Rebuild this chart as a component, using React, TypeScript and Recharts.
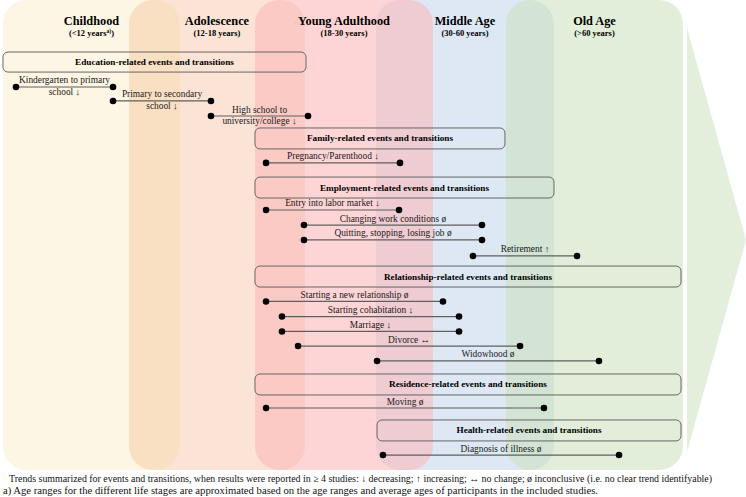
import React from 'react';
import { ComposedChart, XAxis, YAxis, ReferenceArea, Line, Scatter } from 'recharts';

// x: position along the life course (0-100), y: row position (0-32, top to bottom)
const stageNames = ['Childhood', 'Adolescence', 'Young Adulthood', 'Middle Age', 'Old Age'];
const stageRanges = ['(<12 years', '(12-18 years', '(18-30 years', '(30-60 years', '(>60 years'];
const stageNotes = ['a)', '', '', '', ''];
const stageStart = [0.4, 17.29, 34.18, 50.4, 67.83];
const stageEnd = [24.13, 40.88, 58.04, 74.26, 91.55];
const stageTop = 0;
const stageBottom = 30.26;
const headerRow = 1.58;

// arrow at the right end of the timeline
const arrowStart = 92.09;
const arrowEnd = 100;
const arrowTop = 1.8;
const arrowBottom = 29.1;

const sectionTitles = [
  'Education-related events and transitions',
  'Family-related events and transitions',
  'Employment-related events and transitions',
  'Relationship-related events and transitions',
  'Residence-related events and transitions',
  'Health-related events and transitions',
];
const sectionStart = [0.4, 34.18, 34.18, 34.18, 34.18, 50.54];
const sectionEnd = [41.02, 67.69, 74.26, 91.29, 91.29, 91.29];
const sectionTop = [3.35, 8.24, 11.4, 17.13, 24.08, 27.04];
const sectionBottom = [4.64, 9.59, 12.75, 18.48, 25.43, 28.39];

const eventLabels = [
  ['Kindergarten to primary', 'school \u2193'],
  ['Primary to secondary', 'school \u2193'],
  ['High school to', 'university/college \u2193'],
  ['Pregnancy/Parenthood \u2193'],
  ['Entry into labor market \u2193'],
  ['Changing work conditions \u00f8'],
  ['Quitting, stopping, losing job \u00f8'],
  ['Retirement \u2191'],
  ['Starting a new relationship \u00f8'],
  ['Starting cohabitation \u2193'],
  ['Marriage \u2193'],
  ['Divorce \u2194'],
  ['Widowhood \u00f8'],
  ['Moving \u00f8'],
  ['Diagnosis of illness \u00f8'],
];
const eventStart = [2.14, 15.15, 28.28, 35.66, 35.66, 40.75, 40.75, 63.4, 35.66, 37.8, 37.8, 39.95, 50.54, 35.66, 51.34];
const eventEnd = [15.15, 28.28, 41.29, 53.62, 53.49, 64.61, 64.61, 77.35, 59.38, 61.53, 61.53, 69.71, 80.29, 72.92, 82.98];
const eventRow = [5.6, 6.5, 7.47, 10.49, 13.52, 14.49, 15.45, 16.48, 19.41, 20.38, 21.34, 22.28, 23.24, 26.27, 29.3];

const footnotes = [
  'Trends summarized for events and transitions, when results were reported in \u2265 4 studies: \u2193 decreasing; \u2191 increasing; \u2194 no change; \u00f8 inconclusive (i.e. no clear trend identifyable)',
  'a) Age ranges for the different life stages are approximated based on the age ranges and average ages of participants in the included studies.',
];
const footnoteX = [1.21, 0.4];
const footnoteRow = [31.05, 31.8];

const FONT = "'Liberation Serif', 'Times New Roman', serif";
const STAGE_COLORS = ['#fad278', '#fbe4d6', '#fcb8ba', '#dde8f4', '#cbe1bb'];
const STAGE_OPACITY = [0.2, 1, 0.59, 1, 0.56];
const DRAW_ORDER = [1, 0, 3, 4, 2];
const FOOTNOTE_WIDTH = [703, 595];

const headerData = stageNames.map((name, i) => ({
  x: (stageStart[i] + stageEnd[i]) / 2,
  y: headerRow,
  name,
  range: stageRanges[i],
  note: stageNotes[i],
}));
const sectionData = sectionTitles.map((title, i) => ({
  x: (sectionStart[i] + sectionEnd[i]) / 2,
  y: (sectionTop[i] + sectionBottom[i]) / 2,
  title,
}));
const labelData = eventLabels.map((lines, i) => ({
  x: (eventStart[i] + eventEnd[i]) / 2,
  y: eventRow[i],
  lines,
}));
const footnoteData = footnotes.map((text, i) => ({ x: footnoteX[i], y: footnoteRow[i], text, i }));

const HeaderText = (p: any) => (
  <g fontFamily={FONT} fontWeight="bold" fill="#000" textAnchor="middle">
    <text x={p.cx} y={p.cy} fontSize={12.3}>{p.payload.name}</text>
    <text x={p.cx} y={p.cy + 11} fontSize={8.5}>
      {p.payload.range}
      {p.payload.note ? (
        <tspan fontSize={5.5} dy={-3}>{p.payload.note}</tspan>
      ) : null}
      <tspan dy={p.payload.note ? 3 : 0}>)</tspan>
    </text>
  </g>
);

const SectionText = (p: any) => (
  <text x={p.cx} y={p.cy + 3} fontFamily={FONT} fontWeight="bold" fontSize={9.2} fill="#000" textAnchor="middle">
    {p.payload.title}
  </text>
);

const EventText = (p: any) => {
  const lines: string[] = p.payload.lines;
  return (
    <g fontFamily={FONT} fontSize={9.4} fill="#1a1a1a" textAnchor="middle">
      <text x={p.cx} y={p.cy - 3.5}>{lines[0]}</text>
      {lines[1] ? <text x={p.cx} y={p.cy + 8}>{lines[1]}</text> : null}
    </g>
  );
};

const FootnoteText = (p: any) => (
  <text
    x={p.cx}
    y={p.cy}
    fontFamily={FONT}
    fontSize={9.5}
    fill="#111"
    textLength={FOOTNOTE_WIDTH[p.payload.i]}
    lengthAdjust="spacingAndGlyphs"
  >
    {p.payload.text}
  </text>
);

export default function App() {
  return (
    <div style={{ position: 'absolute', left: 0, top: 0, width: 746, height: 497, background: '#fff' }}>
      <ComposedChart width={746} height={497} margin={{ top: 0, right: 0, bottom: 0, left: 0 }}>
        <XAxis dataKey="x" type="number" domain={[0, 100]} hide />
        <YAxis type="number" domain={[0, 32]} reversed hide />

        {DRAW_ORDER.map((i) => (
          <ReferenceArea
            key={`stage-${i}`}
            x1={stageStart[i]}
            x2={stageEnd[i]}
            y1={stageTop}
            y2={stageBottom}
            shape={(p: any) => (
              <rect
                x={p.x}
                y={p.y}
                width={p.width}
                height={p.height}
                rx={24}
                ry={24}
                fill={STAGE_COLORS[i]}
                fillOpacity={STAGE_OPACITY[i]}
              />
            )}
          />
        ))}

        <ReferenceArea
          x1={arrowStart}
          x2={arrowEnd}
          y1={arrowTop}
          y2={arrowBottom}
          shape={(p: any) => (
            <polygon
              points={`${p.x},${p.y} ${p.x + p.width},${p.y + p.height / 2} ${p.x},${p.y + p.height}`}
              fill="#e3efdb"
            />
          )}
        />

        {sectionTitles.map((t, i) => (
          <ReferenceArea
            key={t}
            x1={sectionStart[i]}
            x2={sectionEnd[i]}
            y1={sectionTop[i]}
            y2={sectionBottom[i]}
            shape={(p: any) => (
              <rect x={p.x} y={p.y} width={p.width} height={p.height} rx={5} ry={5} fill="none" stroke="#666" strokeWidth={1} />
            )}
          />
        ))}

        {eventLabels.map((l, i) => (
          <Line
            key={`event-${i}`}
            data={[
              { x: eventStart[i], y: eventRow[i] },
              { x: eventEnd[i], y: eventRow[i] },
            ]}
            dataKey="y"
            type="linear"
            stroke="#5f5f5f"
            strokeWidth={1.2}
            dot={{ r: 3.3, fill: '#000', stroke: '#000', strokeWidth: 0 }}
            activeDot={false}
            isAnimationActive={false}
          />
        ))}

        <Scatter data={headerData} dataKey="y" shape={HeaderText} isAnimationActive={false} />
        <Scatter data={sectionData} dataKey="y" shape={SectionText} isAnimationActive={false} />
        <Scatter data={labelData} dataKey="y" shape={EventText} isAnimationActive={false} />
        <Scatter data={footnoteData} dataKey="y" shape={FootnoteText} isAnimationActive={false} />
      </ComposedChart>
    </div>
  );
}
